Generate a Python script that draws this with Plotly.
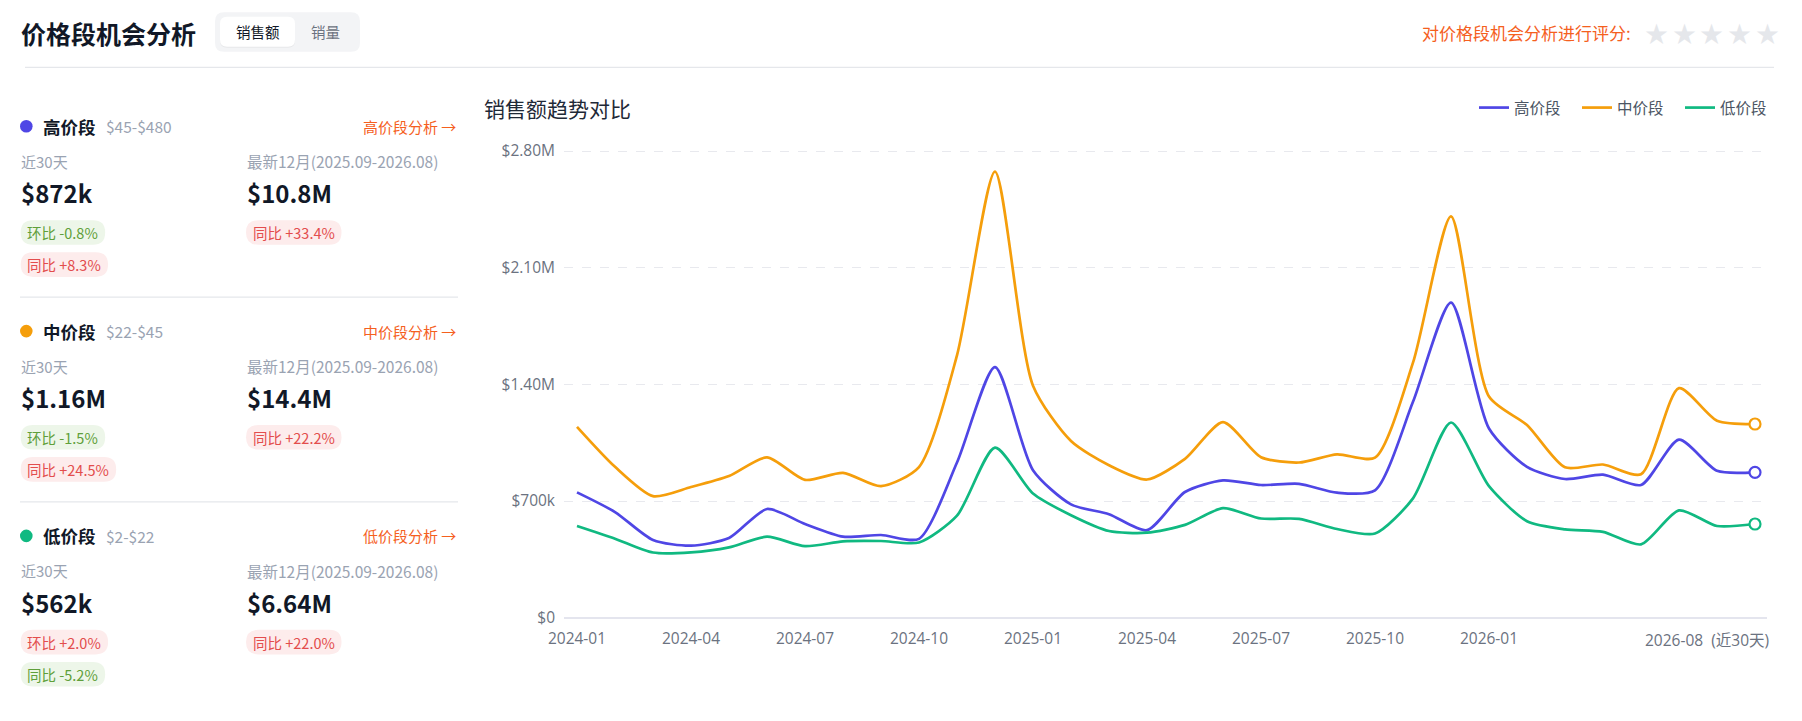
import plotly.graph_objects as go

# the page keeps its default 8px body margin, so the figure is laid out
# in window pixels and shifted by that margin
PAGE_W, PAGE_H, EDGE = 1802, 721, 8
W, H = PAGE_W - 2 * EDGE, PAGE_H - 2 * EDGE
FONT = "Noto Sans CJK SC, Noto Sans, sans-serif"
TICK_FONT = "Open Sans, Noto Sans CJK SC, sans-serif"

# monthly sales, 2024-01 .. 2026-08 (last point = recent 30 days)
months = ["2024-01", "2024-02", "2024-03", "2024-04", "2024-05", "2024-06",
          "2024-07", "2024-08", "2024-09", "2024-10", "2024-11", "2024-12",
          "2025-01", "2025-02", "2025-03", "2025-04", "2025-05", "2025-06",
          "2025-07", "2025-08", "2025-09", "2025-10", "2025-11", "2025-12",
          "2026-01", "2026-02", "2026-03", "2026-04", "2026-05", "2026-06",
          "2026-07", "2026-08"]
high_band = [752e3, 634e3, 466e3, 432e3, 478e3, 652e3, 562e3, 486e3, 496e3, 473e3,
             931e3, 1503e3, 885e3, 680e3, 621e3, 525e3, 754e3, 824e3, 796e3, 803e3,
             750e3, 764e3, 1295e3, 1890e3, 1135e3, 905e3, 832e3, 858e3, 796e3, 1068e3,
             881e3, 872e3]
mid_band = [1145e3, 905e3, 729e3, 784e3, 850e3, 962e3, 827e3, 869e3, 789e3, 904e3,
            1574e3, 2676e3, 1392e3, 1060e3, 915e3, 829e3, 953e3, 1173e3, 963e3, 931e3,
            980e3, 960e3, 1530e3, 2408e3, 1327e3, 1156e3, 902e3, 919e3, 861e3, 1377e3,
            1182e3, 1162e3]
low_band = [550e3, 474e3, 391e3, 392e3, 422e3, 486e3, 429e3, 458e3, 460e3, 451e3,
            612e3, 1020e3, 745e3, 615e3, 520e3, 510e3, 557e3, 657e3, 595e3, 593e3,
            532e3, 505e3, 716e3, 1171e3, 789e3, 579e3, 530e3, 515e3, 440e3, 644e3,
            550e3, 562e3]

series_names = ["高价段", "中价段", "低价段"]
series_values = [high_band, mid_band, low_band]
series_colors = ["#4f46e5", "#f59e0b", "#10b981"]

x_ticks = ["2024-01", "2024-04", "2024-07", "2024-10", "2025-01", "2025-04",
           "2025-07", "2025-10", "2026-01"]
y_ticks = [0, 700e3, 1400e3, 2100e3, 2800e3]
y_tick_text = ["$0", "$700k", "$1.40M", "$2.10M", "$2.80M"]

# left summary cards
seg_ranges = ["$45-$480", "$22-$45", "$2-$22"]
recent_30d = ["$872k", "$1.16M", "$562k"]
last_12m = ["$10.8M", "$14.4M", "$6.64M"]
mom_30d = ["-0.8%", "-1.5%", "+2.0%"]
yoy_30d = ["+8.3%", "+24.5%", "-5.2%"]
yoy_12m = ["+33.4%", "+22.2%", "+22.0%"]

ORANGE = "#f5601e"
GRAY = "#9aa3b2"
DARK = "#111827"


def fx(x):
    return (x - EDGE) / W


def fy(y):
    return 1 - (y - EDGE) / H


annotations = []
shapes = []


def text(x, y, s, size, color, anchor="left", bold=False, family=FONT):
    annotations.append(dict(
        x=fx(x), y=fy(y), xref="paper", yref="paper", showarrow=False,
        text=f"<b>{s}</b>" if bold else s, xanchor=anchor, yanchor="middle",
        font=dict(size=size, color=color, family=family)))


def rrect(x0, y0, x1, y1, r, fill):
    rx, ry = r / W, r / H
    X0, X1, Y0, Y1 = fx(x0), fx(x1), fy(y0), fy(y1)
    path = (f"M {X0 + rx},{Y0} L {X1 - rx},{Y0} Q {X1},{Y0} {X1},{Y0 - ry} "
            f"L {X1},{Y1 + ry} Q {X1},{Y1} {X1 - rx},{Y1} L {X0 + rx},{Y1} "
            f"Q {X0},{Y1} {X0},{Y1 + ry} L {X0},{Y0 - ry} Q {X0},{Y0} {X0 + rx},{Y0} Z")
    shapes.append(dict(type="path", path=path, xref="paper", yref="paper",
                       fillcolor=fill, line=dict(width=0), layer="below"))


def hline(x0, x1, y, color="#e5e7eb"):
    shapes.append(dict(type="line", xref="paper", yref="paper", x0=fx(x0), x1=fx(x1),
                       y0=fy(y), y1=fy(y), line=dict(color=color, width=1.2)))


def text_width(s, size):
    w = 0
    for ch in s:
        if ord(ch) > 0x2e80:
            w += 1.0
        elif ch in ".":
            w += 0.26
        elif ch in "-":
            w += 0.36
        elif ch == " ":
            w += 0.26
        elif ch == "%":
            w += 0.86
        else:
            w += 0.56
    return w * size


def badge(x, y, label, value):
    s = f"{label} {value}"
    up = value.startswith("+")
    bg = "#fdecec" if up else "#edf6e9"
    fg = "#e34d4d" if up else "#5f9f3a"
    w = text_width(s, 14.5) + 14
    rrect(x, y - 12.3, x + w, y + 12.3, 12.3, bg)
    text(x + w / 2, y, s, 14.5, fg, anchor="center")


# header
text(19, 33, "价格段机会分析", 25, DARK, bold=True)
rrect(215, 12.3, 360, 51.7, 9, "#f3f4f6")
rrect(220, 17.7, 295, 47.7, 7, "rgba(0,0,0,0.05)")
rrect(220, 16.7, 295, 46.7, 7, "#ffffff")
text(257.5, 31.5, "销售额", 14.5, DARK, anchor="center")
text(325, 31.5, "销量", 14.5, "#6b7280", anchor="center")
text(1633, 32.3, "对价格段机会分析进行评分:", 17, ORANGE, anchor="right")
for sx in [1656, 1684, 1711, 1739, 1767]:
    text(sx, 32, "★", 23, "#e5e7eb", anchor="center")
hline(25, 1774, 67.3)

# summary cards
for i, name in enumerate(series_names):
    base = 126.3 + 204.8 * i
    d = 12.6
    shapes.append(dict(type="circle", xref="paper", yref="paper",
                       x0=fx(26.3 - d / 2), x1=fx(26.3 + d / 2),
                       y0=fy(base + d / 2), y1=fy(base - d / 2),
                       fillcolor=series_colors[i], line=dict(width=0)))
    text(41, base, name, 17.5, DARK, bold=True)
    text(104, base, seg_ranges[i], 15.5, GRAY)
    text(458, base, f"{name}分析 →", 15, ORANGE, anchor="right")
    text(19, base + 35, "近30天", 15, GRAY)
    text(245, base + 35, "最新12月(2025.09-2026.08)", 15.5, GRAY)
    text(19, base + 66.5, recent_30d[i], 24, DARK, bold=True)
    text(245, base + 66.5, last_12m[i], 24, DARK, bold=True)
    badge(20.7, base + 106.2, "环比", mom_30d[i])
    badge(20.7, base + 138.3, "同比", yoy_30d[i])
    badge(246, base + 106.2, "同比", yoy_12m[i])
    if i < 2:
        hline(20, 458, base + 170.8)

# chart title and last-tick label
text(482, 108, "销售额趋势对比", 21, "#1f2937")
text(1771, 640, "2026-08  (近30天)", 15.5, "#6b7280", anchor="right", family=TICK_FONT)

fig = go.Figure()
for name, vals, color in zip(series_names, series_values, series_colors):
    fig.add_trace(go.Scatter(
        x=months, y=vals, name=name, mode="lines", hoverinfo="skip",
        line=dict(color=color, width=2.7, shape="spline", smoothing=0.7)))
for vals, color in zip(series_values, series_colors):
    fig.add_trace(go.Scatter(
        x=months[-1:], y=vals[-1:], mode="markers", showlegend=False, hoverinfo="skip",
        marker=dict(size=11, color="white", line=dict(color=color, width=2.2))))

# a hair of headroom so the $2.80M grid line is drawn inside the plot
y_top = 2810e3
px_per_dollar = (617.7 - 151) / 2800e3

fig.update_layout(
    width=W, height=H, autosize=False,
    margin=dict(l=0, r=0, t=0, b=0, pad=0, autoexpand=False),
    paper_bgcolor="white", plot_bgcolor="white",
    font=dict(family=FONT, color="#6b7280", size=15),
    annotations=annotations, shapes=shapes,
    legend=dict(orientation="h", xanchor="left", yanchor="middle",
                x=fx(1474), y=fy(108), font=dict(size=15.5, color="#4b5563"),
                itemwidth=30, entrywidth=58, bgcolor="rgba(0,0,0,0)"),
    xaxis=dict(domain=[fx(564), fx(1767)], type="category", range=[-0.342, 31.316],
               tickvals=x_ticks, ticktext=x_ticks, showgrid=False, showline=False,
               zeroline=False, ticks="", automargin=False, ticklabelstandoff=10,
               tickfont=dict(size=15.5, color="#6b7280", family=TICK_FONT)),
    yaxis=dict(domain=[fy(617.7), fy(617.7 - y_top * px_per_dollar)], range=[0, y_top],
               tickvals=y_ticks, ticktext=y_tick_text, showgrid=True,
               gridcolor="#e8e9ee", griddash="dash", gridwidth=1,
               zeroline=True, zerolinecolor="#e4e5ee", zerolinewidth=2,
               showline=False, ticks="", ticklabelstandoff=8, automargin=False,
               tickfont=dict(size=15.5, color="#6b7280", family=TICK_FONT)),
)

fig.write_html("out.html", config={"displayModeBar": False})
